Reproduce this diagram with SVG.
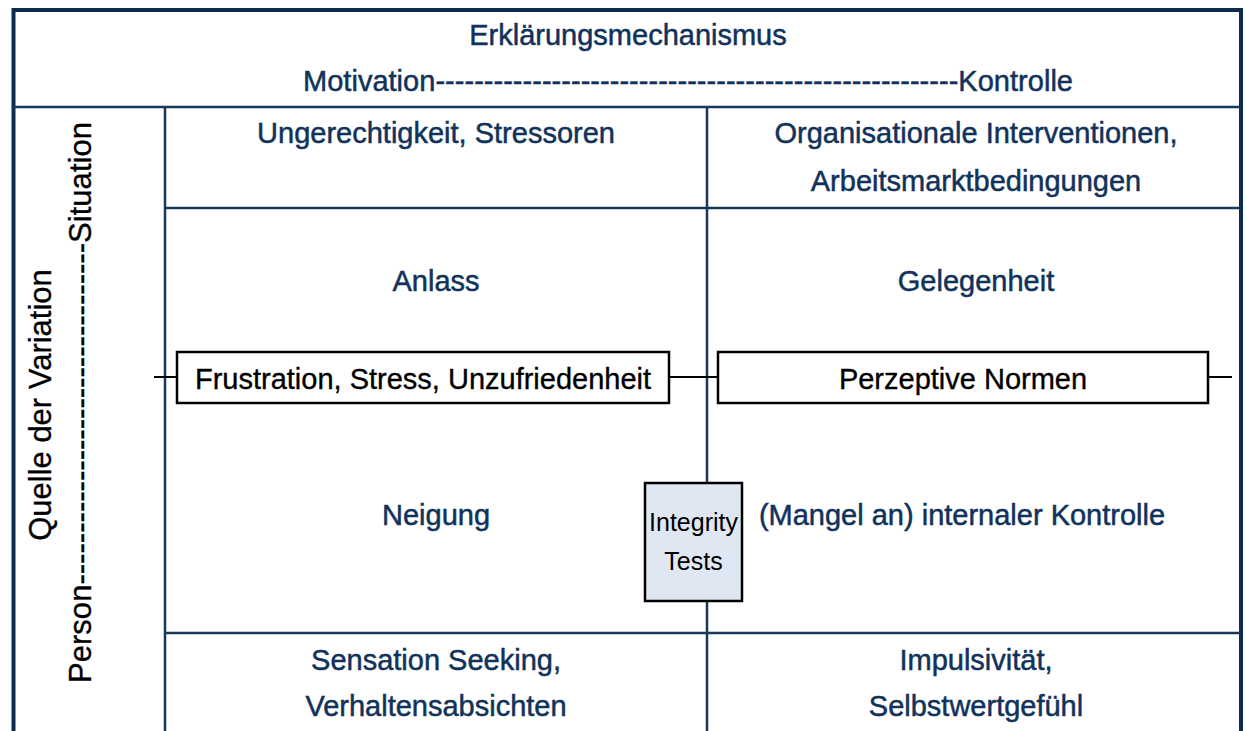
<svg xmlns="http://www.w3.org/2000/svg" width="1246" height="731" viewBox="0 0 1246 731">
  <style>
    .frame { stroke: #0c2c4e; stroke-width: 4; fill: none; }
    .grid { stroke: #17375c; stroke-width: 2.5; fill: none; }
    .lbl { font-family: "Liberation Sans", Arial, sans-serif; font-size: 29px; fill: #11325a; stroke: #11325a; stroke-width: 0.5; text-anchor: middle; }
    .box { fill: #ffffff; stroke: #000000; stroke-width: 2.5; }
    .boxtxt { font-family: "Liberation Sans", Arial, sans-serif; font-size: 29px; fill: #000000; stroke: #000000; stroke-width: 0.35; text-anchor: middle; }
    .side { font-family: "Liberation Sans", Arial, sans-serif; font-size: 31px; fill: #000000; stroke: #000000; stroke-width: 0.35; text-anchor: middle; }
    .link { stroke: #000000; stroke-width: 2; fill: none; }
    .itbox { fill: #dfe7f3; stroke: #000000; stroke-width: 2.5; }
    .ittxt { font-family: "Liberation Sans", Arial, sans-serif; font-size: 25px; fill: #000000; text-anchor: middle; }
  </style>
  <rect width="1246" height="731" fill="#ffffff"/>

  <!-- table frame and grid -->
  <g id="grid">
    <path class="frame" d="M13.5 740 V10 H1241 V740"/>
    <line class="grid" x1="13" y1="107" x2="1241" y2="107"/>
    <line class="grid" x1="165" y1="107" x2="165" y2="740"/>
    <line class="grid" x1="707" y1="107" x2="707" y2="740"/>
    <line class="grid" x1="165" y1="208" x2="1241" y2="208"/>
    <line class="grid" x1="165" y1="633" x2="1241" y2="633"/>
  </g>

  <!-- header -->
  <g id="header">
    <text class="lbl" x="628" y="45">Erklärungsmechanismus</text>
    <text class="lbl" x="688" y="91" textLength="770" lengthAdjust="spacing">Motivation------------------------------------------------------Kontrolle</text>
  </g>

  <!-- axis labels on the left -->
  <g id="axis">
    <text class="side" transform="translate(51 405) rotate(-90)">Quelle der Variation</text>
    <text class="side" transform="translate(91 402.5) rotate(-90)" textLength="561" lengthAdjust="spacing">Person---------------------------------Situation</text>
  </g>

  <!-- connectors -->
  <g id="connectors">
    <line class="link" x1="154" y1="377" x2="177" y2="377"/>
    <line class="link" x1="669" y1="377" x2="718" y2="377"/>
    <line class="link" x1="1208" y1="377" x2="1232" y2="377"/>
  </g>

  <!-- left column -->
  <g id="situation-motivation">
    <text class="lbl" x="436" y="143">Ungerechtigkeit, Stressoren</text>
  </g>
  <g id="anlass">
    <text class="lbl" x="436" y="291">Anlass</text>
  </g>
  <g id="frustration">
    <rect class="box" x="177" y="352" width="492" height="51"/>
    <text class="boxtxt" x="423" y="389">Frustration, Stress, Unzufriedenheit</text>
  </g>
  <g id="neigung">
    <text class="lbl" x="436" y="525">Neigung</text>
  </g>
  <g id="person-motivation">
    <text class="lbl" x="436" y="670">Sensation Seeking,</text>
    <text class="lbl" x="436" y="716">Verhaltensabsichten</text>
  </g>

  <!-- right column -->
  <g id="situation-kontrolle">
    <text class="lbl" x="976" y="143">Organisationale Interventionen,</text>
    <text class="lbl" x="976" y="191">Arbeitsmarktbedingungen</text>
  </g>
  <g id="gelegenheit">
    <text class="lbl" x="976" y="291">Gelegenheit</text>
  </g>
  <g id="normen">
    <rect class="box" x="718" y="352" width="490" height="51"/>
    <text class="boxtxt" x="963" y="389">Perzeptive Normen</text>
  </g>
  <g id="kontrolle">
    <text class="lbl" x="962" y="525">(Mangel an) internaler Kontrolle</text>
  </g>
  <g id="person-kontrolle">
    <text class="lbl" x="976" y="670">Impulsivität,</text>
    <text class="lbl" x="976" y="716">Selbstwertgefühl</text>
  </g>

  <!-- integrity tests -->
  <g id="integrity-tests">
    <rect class="itbox" x="645" y="483" width="97" height="118"/>
    <text class="ittxt" x="693.5" y="531">Integrity</text>
    <text class="ittxt" x="693.5" y="570">Tests</text>
  </g>
</svg>
